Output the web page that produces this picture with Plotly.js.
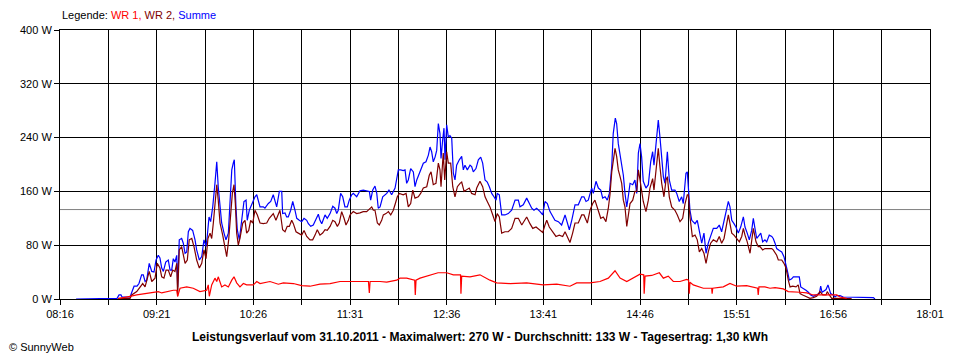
<!DOCTYPE html>
<html>
<head>
<meta charset="utf-8">
<script src="https://cdn.plot.ly/plotly-3.0.1.min.js"></script>
<style>html,body{margin:0;padding:0;background:#fff;}#chart{width:960px;height:360px;}</style>
</head>
<body>
<div id="chart"></div>
<script>
// Times are minutes after midnight (08:16 = 496, 18:01 = 1081)
const sumT = [506.8,519.5,520.9,522.9,534.3,535.7,537.0,537.7,543.1,544.4,545.8,547.8,549.1,550.9,552.0,553.2,554.3,556.0,557.7,559.2,560.6,562.1,563.2,564.4,565.5,567.1,568.8,570.0,571.1,572.2,573.3,574.5,575.1,576.2,577.8,578.9,580.1,581.2,582.3,583.4,585.2,586.8,587.9,589.7,591.3,592.8,594.2,595.0,596.2,597.3,598.7,600.2,601.4,602.4,603.6,604.7,606.3,607.6,609.2,610.3,611.5,612.5,613.2,614.3,615.2,616.6,618.2,619.7,621.1,621.9,623.3,624.9,627.1,628.3,629.3,630.5,632.7,633.8,636.1,637.7,639.4,640.6,641.7,643.5,645.1,645.7,647.3,648.4,649.5,651.1,652.5,654.0,655.2,656.9,658.5,660.1,661.9,663.0,664.6,666.3,668.1,669.7,670.8,672.0,674.2,675.7,677.6,679.4,680.9,682.1,683.1,684.7,686.1,687.6,689.2,690.5,692.1,693.2,695.5,697.7,699.9,702.2,704.0,704.9,706.3,707.8,709.0,710.0,711.2,713.0,714.5,715.7,717.2,719.0,721.3,722.4,723.5,725.1,726.8,728.0,729.1,730.2,731.8,733.6,734.7,735.9,738.1,740.3,742.1,743.7,744.8,745.9,747.0,748.2,749.3,750.4,751.5,752.2,753.3,754.2,754.9,756.0,757.1,758.2,759.4,760.5,761.6,762.7,764.5,766.1,767.2,768.3,769.9,771.7,772.8,773.9,775.7,777.3,778.9,780.2,781.8,783.3,784.7,786.3,787.8,789.2,790.0,791.4,793.0,795.2,797.4,799.7,802.0,804.2,805.3,807.5,809.8,811.6,813.2,814.7,816.5,818.8,820.6,822.1,823.7,825.5,827.3,828.8,831.1,833.3,835.6,836.7,838.5,840.1,842.3,844.5,846.8,848.3,849.7,851.2,853.5,854.6,856.4,858.0,859.6,860.9,862.5,864.0,865.4,867.0,868.0,869.4,870.3,871.4,872.6,873.7,874.8,875.9,877.1,878.1,879.3,881.1,882.6,883.8,884.9,886.0,887.1,888.2,890.0,891.6,893.2,894.5,895.4,896.8,898.3,899.4,900.6,901.7,902.8,904.4,905.7,907.3,909.5,910.7,912.4,914.0,915.1,916.9,917.8,918.5,919.6,920.8,921.8,923.0,924.5,925.9,927.5,929.0,930.4,931.9,933.5,935.3,937.6,939.3,940.9,942.5,943.8,945.4,946.5,947.7,949.2,950.5,952.1,953.7,955.5,956.6,958.1,959.5,961.1,962.2,963.3,964.5,966.2,967.2,968.5,970.0,971.2,972.9,974.6,975.6,976.8,977.9,979.7,981.3,982.8,984.0,985.0,986.4,988.0,989.1,991.4,993.1,994.1,995.8,997.6,999.2,1000.8,1002.5,1004.8,1006.6,1007.5,1008.4,1009.7,1011.1,1012.4,1013.3,1014.2,1016.0,1017.1,1018.3,1020.5,1022.7,1025.0,1029.4,1033.9,1038.4,1042.9,1044.0];
const sumW = [0,1,1,0.5,0.5,6,6,3,3,11,19,19,23,36,36,26,28,53,41,40,58,65,61,46,41,55,58,43,43,60,55,65,18,88,90,83,68,70,100,105,102,88,73,58,63,88,78,93,122,115,137,172,204,167,137,113,98,88,98,137,192,202,207,137,103,88,122,145,147,117,132,140,152,155,145,137,137,135,142,145,155,147,137,160,160,127,128,122,122,132,145,132,120,117,115,120,117,112,108,110,120,126,117,112,125,120,127,138,135,127,132,157,152,137,137,147,155,157,152,161,162,161,160,147,162,168,157,135,137,152,155,157,162,155,165,177,192,192,191,192,172,177,194,189,167,177,189,202,204,214,226,219,204,211,221,261,246,209,236,254,207,259,241,243,239,187,177,199,207,212,192,199,192,199,197,189,194,207,211,202,177,174,167,157,152,147,157,155,125,125,127,132,147,147,137,140,150,142,135,132,135,130,125,145,142,130,122,117,115,110,125,115,103,117,140,140,152,152,145,147,165,157,175,165,162,150,152,147,157,197,246,269,261,231,212,199,184,157,137,152,172,170,177,157,217,231,211,175,165,170,204,219,199,231,266,241,209,182,172,219,177,162,162,157,145,152,142,187,189,160,132,117,115,112,117,98,83,98,68,83,93,105,105,110,100,115,132,145,137,117,112,107,98,107,122,107,98,88,102,120,105,90,95,98,85,88,85,95,93,90,83,75,72,70,63,53,43,28,30,33,33,33,18,16,13,10,6,4,6,8,19,10,12,14,21,12,8,6,3,5,5,3,3,2,2,2,2,0];

const wr2T = [535.0,536.3,543.1,544.2,547.6,549.8,551.6,553.2,556.0,557.7,559.9,561.4,563.2,564.4,565.9,567.3,568.8,570.4,571.8,573.3,574.5,575.1,576.2,577.8,580.1,581.6,582.9,584.6,586.1,587.9,589.7,591.3,592.8,594.2,595.5,596.9,598.0,599.1,600.2,601.4,602.4,603.6,605.4,606.9,608.1,609.4,610.8,611.9,613.0,613.9,614.8,615.9,617.0,618.9,620.4,621.5,622.9,624.2,625.6,627.1,628.7,630.5,632.7,635.0,636.7,638.4,639.4,641.2,642.8,643.9,645.7,647.3,648.8,650.2,651.8,652.9,654.7,656.2,658.5,660.1,661.9,664.1,665.9,667.5,669.0,670.8,672.6,674.2,675.7,677.6,679.4,680.9,682.5,683.8,685.4,687.0,688.3,689.9,691.0,693.2,695.5,697.7,699.9,702.2,704.5,705.6,706.7,707.8,709.4,710.7,712.3,713.4,715.2,716.8,718.4,720.1,721.5,722.8,724.2,726.8,728.7,730.2,731.8,733.2,734.7,736.9,738.5,740.3,742.6,744.3,745.5,747.0,748.8,750.4,751.5,752.2,753.7,754.7,756.0,757.1,758.7,760.1,761.6,763.2,765.0,766.1,767.7,769.5,771.2,772.8,775.1,776.2,778.4,780.2,781.8,783.3,785.1,787.0,788.5,790.0,791.4,793.0,795.2,797.4,799.7,802.0,804.2,806.5,808.0,809.8,812.0,813.9,816.1,818.3,820.6,822.1,823.3,825.0,827.3,829.5,831.7,834.0,835.6,837.1,838.9,840.7,842.3,844.5,846.8,848.3,850.6,852.4,854.2,855.7,858.0,859.6,861.3,863.1,864.7,865.8,867.0,868.0,869.2,870.3,871.4,872.6,873.7,874.8,875.9,877.1,878.1,879.3,881.1,882.6,883.8,884.9,886.0,887.1,888.2,890.0,891.6,892.7,894.5,895.4,896.8,898.3,899.4,900.6,902.1,903.5,904.4,905.7,907.3,909.5,911.1,912.9,914.7,916.3,917.8,918.5,919.6,921.2,923.0,924.5,925.9,927.5,929.0,930.4,931.9,933.5,935.3,937.6,939.3,940.9,942.5,944.3,945.4,946.5,947.7,949.2,951.0,952.8,954.4,955.5,956.6,958.1,960.0,961.1,962.2,964.0,965.5,966.7,968.5,970.0,972.3,974.6,975.6,977.9,979.0,981.3,982.8,984.2,985.7,986.9,988.7,990.9,992.4,993.6,995.4,997.6,1000.3,1002.5,1004.8,1007.0,1008.9,1011.1,1011.9,1013.3,1014.9,1017.1,1020.5,1022.7,1025.0,1028.3];
const wr2W = [0.5,1,1,6,11,18,23,18,41,26,31,53,46,33,31,43,43,33,43,41,53,4,73,78,53,58,88,90,78,58,46,53,73,60,90,98,90,113,137,170,147,113,95,78,63,88,122,157,170,142,98,80,90,113,117,98,102,117,113,132,125,113,112,113,120,125,127,117,125,132,103,100,108,108,117,112,100,98,95,102,93,88,88,95,103,95,98,103,102,108,117,115,108,113,130,120,110,117,125,130,127,128,130,130,135,137,132,132,113,110,117,125,127,130,125,132,142,152,157,155,157,137,142,162,150,152,157,165,167,184,189,170,172,202,192,167,217,177,219,202,202,167,152,167,172,174,160,162,165,157,155,165,175,167,152,145,137,125,115,127,122,98,100,100,105,120,120,110,115,122,112,105,107,103,99,110,117,107,100,93,95,93,100,93,84,98,113,113,125,125,113,132,142,147,132,120,122,115,135,155,189,207,224,212,192,182,172,147,137,108,127,142,147,160,160,192,177,162,145,130,147,165,179,162,192,224,197,172,152,177,182,152,137,132,125,115,120,142,155,155,122,93,95,88,70,75,68,53,70,83,88,85,93,83,90,115,125,112,98,95,90,85,93,105,95,85,68,88,105,85,78,78,73,75,75,75,73,65,58,58,53,46,28,18,19,18,21,8,6,4,1,2,4,11,6,6,11,6,1,1,0.5,1,0.5,0.5];

const wr1T = [535.0,539.7,543.1,547.6,554.3,556.5,562.1,564.4,567.7,572.2,574.5,575.1,576.7,581.2,585.6,590.1,594.6,595.7,596.4,598.0,600.2,601.4,602.4,604.7,606.9,609.2,611.5,613.0,614.8,617.0,619.3,621.5,623.8,626.0,628.3,630.5,637.2,642.8,646.2,652.9,658.5,664.1,670.8,677.6,684.3,691.0,697.7,703.4,704.0,704.5,711.2,715.7,722.4,724.6,729.1,733.6,734.5,734.9,735.4,738.1,744.8,750.2,756.0,760.5,765.3,765.6,766.1,771.7,778.4,785.1,789.6,798.6,809.8,820.8,830.0,838.9,843.4,852.4,859.1,864.7,869.2,872.6,877.1,881.5,886.0,888.5,888.8,889.4,893.9,899.0,901.7,905.0,908.4,912.9,917.4,918.7,919.1,919.6,921.8,928.6,934.2,934.5,934.9,942.0,946.5,951.0,957.7,965.1,965.5,966.0,970.0,973.4,976.8,982.4,985.7,993.6,998.1,1002.5,1009.3,1014.9,1018.3,1020.5,1025.0];
const wr1W = [0.5,2,4,6,8,9,11,9,11,13,13,4,16,18,16,11,13,21,4,21,31,26,33,18,21,18,28,33,24,18,23,21,21,21,26,23,26,22,24,23,20,19,22,23,26,26,25,26,9,26,26,25,28,31,31,28,28,6,28,31,36,39,39,36,36,8,34,33,36,28,24,23,24,21,22,19,24,24,26,31,42,31,26,31,37,36,8,34,35,39,31,34,26,26,29,28,8,25,21,16,16,8,16,18,23,19,20,16,6,18,18,16,17,15,11,10,9,6,6,6,6,3,1];

const averageW = 133;
const xTickLabels = ['08:16','','09:21','','10:26','','11:31','','12:36','','13:41','','14:46','','15:51','','16:56','','18:01'];
const yTickVals = [0,80,160,240,320,400];
const yTickLabels = ['0 W','80 W','160 W','240 W','320 W','400 W'];
const legendNames = ['WR 1','WR 2','Summe'];
const subtitle = 'Leistungsverlauf vom 31.10.2011 - Maximalwert: 270 W - Durchschnitt: 133 W - Tagesertrag: 1,30 kWh';

const xStart = 496, xEnd = 1081;
const tickStep = (xEnd - xStart) / (xTickLabels.length - 1);
const xTickVals = xTickLabels.map((_, i) => xStart + i * tickStep);

const FONT = 'Liberation Sans, Arial, sans-serif';
const C1 = '#ff0000', C2 = '#800000', C3 = '#0000ff';

const traces = [
  {x: sumT, y: sumW, name: legendNames[2], mode: 'lines', line: {color: C3, width: 1.2}},
  {x: wr2T, y: wr2W, name: legendNames[1], mode: 'lines', line: {color: C2, width: 1.2}},
  {x: wr1T, y: wr1W, name: legendNames[0], mode: 'lines', line: {color: C1, width: 1.2}}
];

const layout = {
  width: 960, height: 360,
  margin: {l: 60, r: 30, t: 30, b: 61, pad: 0},
  paper_bgcolor: '#ffffff', plot_bgcolor: '#ffffff',
  showlegend: false, hovermode: false,
  font: {family: FONT, size: 11, color: '#000'},
  xaxis: {
    range: [xStart, xEnd], tickmode: 'array', tickvals: xTickVals, ticktext: xTickLabels,
    showgrid: true, gridcolor: '#000', gridwidth: 1, zeroline: false,
    showline: true, linecolor: '#000', linewidth: 1, mirror: true,
    ticks: 'outside', ticklen: 5, tickcolor: '#000', tickwidth: 1,
    tickfont: {family: FONT, size: 11, color: '#000'}, fixedrange: true
  },
  yaxis: {
    range: [0, 400], tickmode: 'array', tickvals: yTickVals, ticktext: yTickLabels,
    showgrid: true, gridcolor: '#000', gridwidth: 1, zeroline: false,
    showline: true, linecolor: '#000', linewidth: 1, mirror: true,
    ticks: 'outside', ticklen: 5, tickcolor: '#000', tickwidth: 1,
    tickfont: {family: FONT, size: 11, color: '#000'}, fixedrange: true
  },
  shapes: [
    {type: 'line', xref: 'paper', x0: 0, x1: 1, yref: 'y', y0: averageW, y1: averageW,
     line: {color: '#808080', width: 1}, layer: 'below'}
  ],
  annotations: [
    {xref: 'paper', yref: 'paper', x: 0, y: 1.056, xanchor: 'left', yanchor: 'middle', showarrow: false,
     text: 'Legende: <span style="color:' + C1 + '">' + legendNames[0] + ',</span> <span style="color:' + C2 + '">' + legendNames[1] + ',</span> <span style="color:' + C3 + '">' + legendNames[2] + '</span>',
     font: {family: FONT, size: 11, color: '#000'}},
    {xref: 'paper', yref: 'paper', x: 0.483, y: -0.141, xanchor: 'center', yanchor: 'middle', showarrow: false,
     text: '<b>' + subtitle + '</b>', font: {family: FONT, size: 12, color: '#000'}},
    {xref: 'paper', yref: 'paper', x: -0.061, y: -0.178, xanchor: 'left', yanchor: 'middle', showarrow: false,
     text: '© SunnyWeb', font: {family: FONT, size: 11, color: '#000'}}
  ]
};

Plotly.newPlot('chart', traces, layout, {staticPlot: true, displayModeBar: false});
</script>
</body>
</html>
